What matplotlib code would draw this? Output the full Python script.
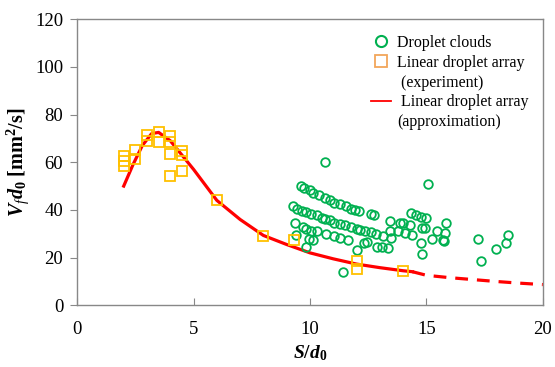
import matplotlib
matplotlib.use("Agg")
import matplotlib.pyplot as plt
from matplotlib.lines import Line2D

plt.rcParams['font.family'] = ['Liberation Serif', 'DejaVu Serif']
plt.rcParams['mathtext.fontset'] = 'custom'
plt.rcParams['mathtext.rm'] = 'Liberation Serif'
plt.rcParams['mathtext.it'] = 'Liberation Serif:italic'
plt.rcParams['mathtext.bf'] = 'Liberation Serif:bold'
plt.rcParams['mathtext.bfit'] = 'Liberation Serif:bold:italic'

# droplet clouds (green circles)
cloud_x = [9.6, 9.75, 10.0, 10.15, 10.4, 10.65, 10.85, 11.05, 11.3, 11.55, 11.75, 11.95, 12.1,
           9.25, 9.45, 9.65, 9.85, 10.05, 10.3, 10.5, 10.65, 10.85, 11.05, 11.3, 11.5, 11.75, 12.0,
           12.15, 12.35, 12.6, 12.85, 13.15, 13.5,
           9.35, 9.7, 9.85, 10.05, 10.3, 10.7, 11.05, 11.3, 11.65, 12.3, 12.45, 12.9, 13.1, 13.35, 12.0,
           10.65, 9.4, 9.95, 10.15, 9.85, 11.4,
           12.6, 12.75, 13.45, 13.85, 14.0, 14.3, 13.45, 13.8, 14.1, 14.4, 14.35, 14.55, 14.75, 15.0,
           14.8, 14.95, 14.75, 14.8, 15.05, 15.85, 15.45, 15.8, 15.25, 15.7, 15.75, 17.2, 17.35, 18.0,
           18.4, 18.5]
cloud_y = [50.1, 49.4, 48.2, 47.3, 46.4, 45.0, 44.0, 43.1, 42.6, 41.8, 40.4, 39.8, 39.6,
           41.5, 40.5, 39.7, 39.1, 38.4, 37.8, 36.8, 36.3, 35.6, 34.7, 34.2, 33.5, 32.8, 32.1,
           31.7, 31.0, 30.7, 29.9, 28.9, 28.3,
           34.5, 32.8, 32.1, 31.3, 31.3, 29.9, 28.9, 28.2, 27.5, 26.1, 26.5, 24.5, 24.4, 24.2, 23.0,
           60.0, 29.6, 27.8, 27.5, 24.4, 13.9,
           38.3, 37.7, 35.5, 34.7, 34.4, 33.8, 31.3, 31.2, 30.3, 29.6, 38.7, 37.7, 37.0, 36.6,
           32.4, 32.4, 26.1, 21.7, 51.0, 34.5, 31.0, 30.4, 27.9, 27.2, 27.0, 27.9, 18.4, 23.7,
           26.2, 29.5]

# linear droplet array, experiment (squares)
exp_x = [2.0, 2.0, 2.0, 2.5, 2.5, 3.0, 3.0, 3.5, 3.5, 4.0, 4.0, 4.0, 4.0,
         4.5, 4.5, 4.5, 6.0, 8.0, 9.3, 12.0, 12.0, 14.0]
exp_y = [62.5, 60.4, 58.6, 65.0, 61.4, 71.5, 68.9, 72.7, 68.6, 70.8, 68.3, 63.6, 54.2,
         64.5, 63.0, 56.3, 44.2, 29.1, 27.2, 18.7, 15.3, 14.2]

# linear droplet array, approximation (solid part and extrapolated dashed part)
fit_x = [2.0, 2.4, 2.8, 3.2, 3.5, 4.0, 4.5, 5.0, 6.0, 7.0, 8.0, 9.0, 10.0, 11.0, 12.0, 13.0, 14.0, 14.4]
fit_y = [50.0, 59.0, 67.0, 72.0, 72.5, 69.0, 63.0, 57.0, 44.0, 36.0, 29.3, 25.5, 22.0, 19.5, 17.3, 15.8, 14.5, 14.1]
ext_x = [14.4, 15.0, 16.0, 17.0, 18.0, 19.0, 20.0]
ext_y = [14.1, 12.6, 11.6, 10.8, 10.0, 9.3, 8.7]

xticks = [0, 5, 10, 15, 20]
yticks = [0, 20, 40, 60, 80, 100, 120]

green = '#00B050'
orange = '#FFC000'
red = '#FF0000'
grey = '#888888'

fig = plt.figure(figsize=(5.55, 3.67), dpi=100)
ax = fig.add_axes([0.139, 0.168, 0.839, 0.780])

ax.plot(fit_x, fit_y, color=red, lw=2.3, zorder=2)
ax.plot(ext_x, ext_y, color=red, lw=2.3, dashes=(4, 2.8), zorder=2)
ax.plot(cloud_x, cloud_y, 'o', ls='none', ms=6.2, mfc='none', mec=green, mew=1.3, zorder=3)
ax.plot(exp_x, exp_y, 's', ls='none', ms=7.0, mfc='none', mec=orange, mew=1.3, zorder=4)

ax.set_xlim(0, 20)
ax.set_ylim(0, 120)
ax.set_xticks(xticks)
ax.set_xticklabels([str(t) for t in xticks], fontfamily='Liberation Serif')
ax.set_yticks(yticks)
ax.set_yticklabels([str(t) for t in yticks], fontfamily='Liberation Serif')
ax.tick_params(axis='x', direction='in', length=5, color=grey, labelsize=13.5, pad=11)
ax.tick_params(axis='y', direction='out', length=5, color=grey, labelsize=13.5, pad=5)
for s in ax.spines.values():
    s.set_color(grey)
    s.set_linewidth(1.0)

ax.set_xlabel(r'$\mathbfit{S}\mathbf{/}\mathbfit{d}_{\mathbf{0}}$', fontsize=14, labelpad=4)
ax.set_ylabel(r'$\mathbfit{V}_{\mathit{f}}\mathbfit{d}_{\mathbf{0}}$ [mm$^{\mathbf{2}}$/s]',
              fontsize=14.5, fontweight='bold', labelpad=3)

blank = Line2D([], [], ls='none')
handles = [
    Line2D([], [], ls='none', marker='o', ms=8, mfc='none', mec=green, mew=1.5),
    Line2D([], [], ls='none', marker='s', ms=8, mfc='none', mec='#F2A65A', mew=1.3),
    blank,
    Line2D([], [], color=red, lw=1.3),
    blank,
]
labels = ['Droplet clouds', 'Linear droplet array', ' (experiment)',
          ' Linear droplet array', '(approximation)']
ax.legend(handles, labels, loc='upper right', bbox_to_anchor=(0.99, 0.978), frameon=False,
          fontsize=11.5, handlelength=1.2, handletextpad=0.4, labelspacing=0.24, borderaxespad=0.2)

fig.savefig('out.png', dpi=100)
